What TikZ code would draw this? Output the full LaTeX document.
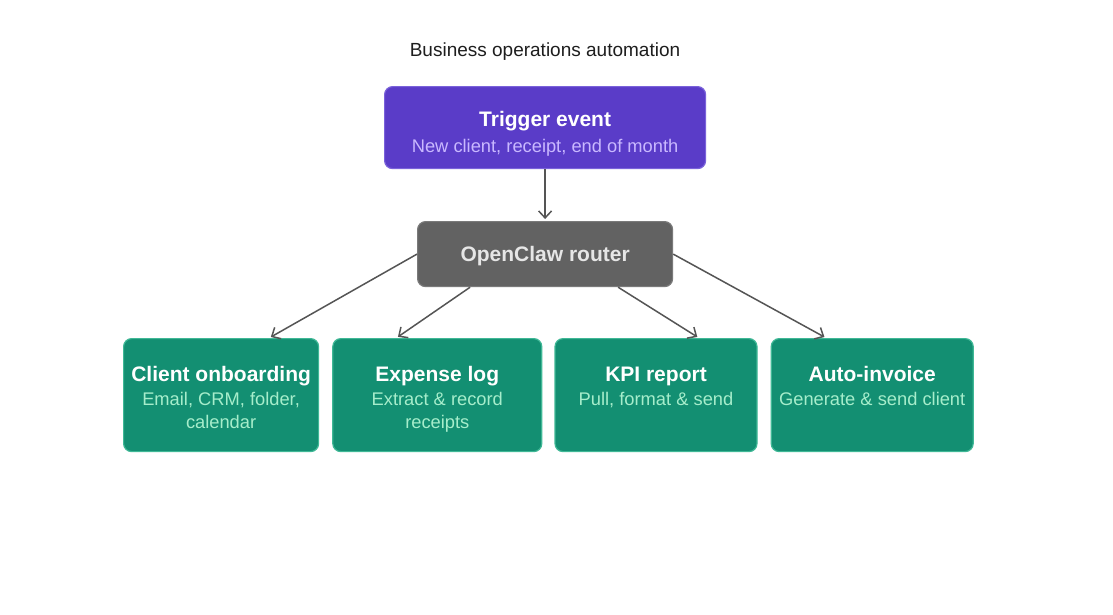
\documentclass[tikz,border=0pt]{standalone}
\usepackage{fontspec}
\setmainfont{Liberation Sans}
\usepackage{tikz}
\usetikzlibrary{positioning,arrows.meta}
\definecolor{trigfill}{HTML}{5A3CC8}
\definecolor{trigedge}{HTML}{7A62DA}
\definecolor{trigsub}{HTML}{C9B8FF}
\definecolor{routfill}{HTML}{626262}
\definecolor{routedge}{HTML}{7A7A7A}
\definecolor{routtext}{HTML}{E6E6E6}
\definecolor{taskfill}{HTML}{138F72}
\definecolor{taskedge}{HTML}{3FB896}
\definecolor{tasksub}{HTML}{A6EDCB}
\definecolor{linkgray}{HTML}{555555}
\definecolor{titlegray}{HTML}{1E1E1E}
\newcommand{\boxttl}[1]{\rule{0pt}{27pt}{\color{white}\bfseries\fontsize{21}{24}\selectfont #1}}

\begin{document}
\begin{tikzpicture}[
  x=1pt, y=1pt,
  box/.style={rounded corners=8pt, line width=1.2pt, align=center, inner sep=0pt,
    font=\fontsize{18.3}{23}\selectfont},
  task/.style={box, fill=taskfill, draw=taskedge, text=tasksub, minimum height=113pt, anchor=north west},
  link/.style={-{Straight Barb[length=7pt,width=13pt]}, draw=linkgray, line width=1.5pt, shorten >=2pt},
]
\useasboundingbox (0,0) rectangle (1113,-614);
\fill[white] (0,0) rectangle (1113,-614);

\node[font=\fontsize{19}{22}\selectfont, text=titlegray] (title) at (545,-52) {Business operations automation};

\node[box, fill=trigfill, draw=trigedge, text=trigsub, minimum width=321pt, minimum height=82pt, anchor=north west] (trig) at (384,-86)
  {\boxttl{Trigger event}\\[3pt]New client, receipt, end of month};
\node[box, fill=routfill, draw=routedge, minimum width=255pt, minimum height=65pt, anchor=north west, text=routtext,
  font=\bfseries\fontsize{21}{24}\selectfont] (rout) at (417,-221) {\rule{0pt}{19pt}OpenClaw router};

% task row
\node[task, minimum width=195pt] (onb) at (123,-338)
  {\boxttl{Client onboarding}\\[1pt]Email, CRM, folder,\\calendar\strut};
\node[task, minimum width=209pt, right=13pt of onb.north east, anchor=north west] (exp)
  {\boxttl{Expense log}\\[1pt]Extract \& record\\receipts\strut};
\node[task, minimum width=202pt, right=12pt of exp.north east, anchor=north west] (kpi)
  {\boxttl{KPI report}\\[1pt]Pull, format \& send\\\strut};
\node[task, minimum width=202pt, right=13pt of kpi.north east, anchor=north west] (inv)
  {\boxttl{Auto-invoice}\\[1pt]Generate \& send client\\\strut};

\draw[link] (trig) -- (rout);
\draw[link] (rout.west) -- ([xshift=48pt]onb.north);
\draw[link] ([xshift=-75pt]rout.south) -- ([xshift=-41pt]exp.north);
\draw[link] ([xshift=73pt]rout.south) -- ([xshift=43pt]kpi.north);
\draw[link] (rout.east) -- ([xshift=-46pt]inv.north);
\end{tikzpicture}
\end{document}
